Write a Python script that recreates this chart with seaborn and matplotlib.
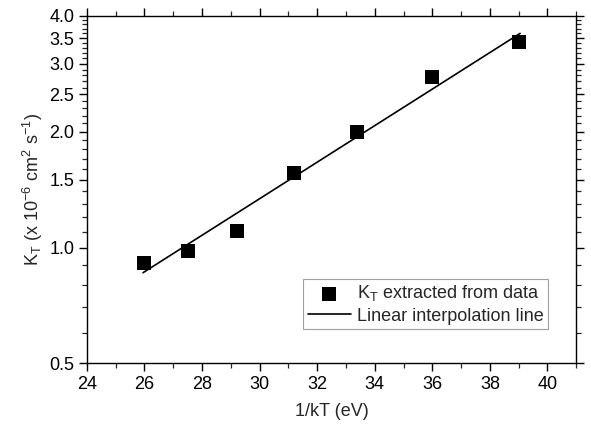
import numpy as np
import pandas as pd
import matplotlib
matplotlib.use("Agg")
import matplotlib.pyplot as plt
from matplotlib.ticker import FixedLocator, FixedFormatter, MultipleLocator, NullFormatter
import seaborn as sns

# Measured diffusion coefficients vs inverse thermal energy
inv_kT = [26.0, 27.5, 29.2, 31.2, 33.4, 36.0, 39.0]
k_T = [0.912, 0.978, 1.103, 1.563, 1.99, 2.77, 3.41]

# End points of the fitted line (straight on the log axis)
fit_x = [25.95, 39.05]
fit_y = [0.86, 3.6]

y_major = [0.5, 1.0, 1.5, 2.0, 2.5, 3.0, 3.5, 4.0]
y_major_labels = ["0.5", "1.0", "1.5", "2.0", "2.5", "3.0", "3.5", "4.0"]
x_major = [24, 26, 28, 30, 32, 34, 36, 38, 40]

sns.set_style("ticks")
plt.rcParams["font.family"] = ["Liberation Sans", "DejaVu Sans"]
plt.rcParams["mathtext.fontset"] = "custom"
plt.rcParams["mathtext.rm"] = "Liberation Sans"
plt.rcParams["mathtext.it"] = "Liberation Sans"

FS = 13

fig = plt.figure(figsize=(5.91, 4.26), dpi=100)
ax = fig.add_axes([0.147, 0.147, 0.828, 0.816])

pts = pd.DataFrame({"x": inv_kT, "y": k_T})
fit = pd.DataFrame({"x": fit_x, "y": fit_y})

sns.scatterplot(data=pts, x="x", y="y", marker="s", s=100, color="black",
                edgecolor="black", linewidth=0, ax=ax,
                label=r"K$_\mathrm{T}$ extracted from data", zorder=3)
sns.lineplot(data=fit, x="x", y="y", color="black", linewidth=1.2, ax=ax,
             label="Linear interpolation line", zorder=2)

ax.set_yscale("log")
ax.set_xlim(24, 41)
ax.set_ylim(0.5, 4.0)

ax.yaxis.set_major_locator(FixedLocator(y_major))
ax.yaxis.set_major_formatter(FixedFormatter(y_major_labels))
minor_vals = [v / 10 for v in range(6, 40) if v % 5 != 0]
ax.yaxis.set_minor_locator(FixedLocator(minor_vals))
ax.yaxis.set_minor_formatter(NullFormatter())

ax.xaxis.set_major_locator(FixedLocator(x_major))
ax.xaxis.set_minor_locator(MultipleLocator(1))

for side in ["top", "right", "left", "bottom"]:
    ax.spines[side].set_visible(True)
    ax.spines[side].set_linewidth(1.0)
    ax.spines[side].set_color("black")

ax.tick_params(which="major", direction="out", length=6, width=1.0,
               top=True, right=True, labelsize=FS, colors="black", pad=3)
ax.tick_params(which="minor", direction="out", length=3.5, width=0.9,
               top=True, right=True)

ax.set_xlabel("1/kT (eV)", fontsize=FS, labelpad=7)
ax.set_ylabel(r"K$_\mathrm{T}$ (x 10$^{-6}$ cm$^2$ s$^{-1}$)", fontsize=FS, labelpad=3)

leg = ax.legend(loc="lower right", bbox_to_anchor=(0.942, 0.098),
                fontsize=FS, frameon=True, fancybox=False,
                handlelength=2.4, handletextpad=0.3, borderpad=0.25,
                labelspacing=0.25, borderaxespad=0)
leg.get_frame().set_edgecolor("#888888")
leg.get_frame().set_linewidth(0.8)

fig.savefig("out.png", dpi=100)
